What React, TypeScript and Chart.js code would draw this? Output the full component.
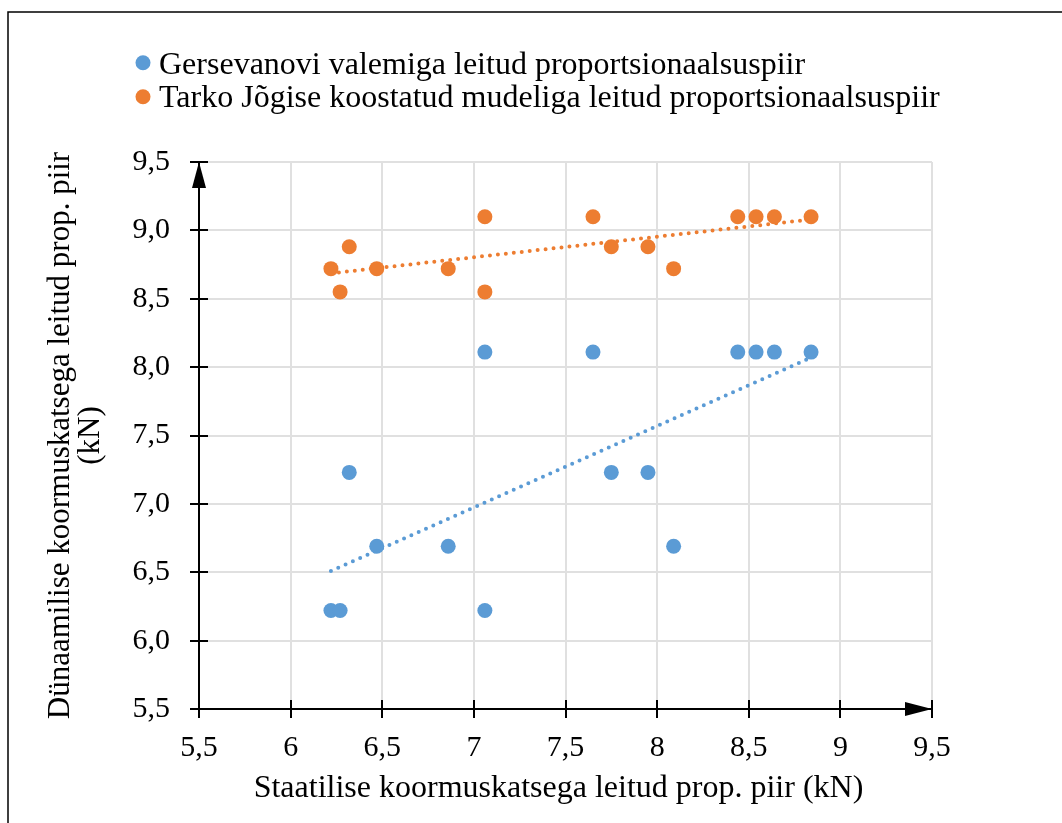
import React, { useEffect, useRef } from 'react';
import { Chart, registerables } from 'chart.js';

Chart.register(...registerables);

const seriesNames = [
  'Gersevanovi valemiga leitud proportsionaalsuspiir',
  'Tarko Jõgise koostatud mudeliga leitud proportsionaalsuspiir',
];
const seriesColors = ['#5B9BD5', '#ED7D31'];

// Staatilise koormuskatsega leitud prop. piir (kN)
const staticX = [6.22, 6.27, 6.32, 6.47, 6.86, 7.06, 7.06, 7.65, 7.75, 7.95, 8.09, 8.44, 8.54, 8.64, 8.84];
// Dünaamilise koormuskatsega leitud prop. piir (kN)
const gersevanovY = [6.22, 6.22, 7.23, 6.69, 6.69, 6.22, 8.11, 8.11, 7.23, 7.23, 6.69, 8.11, 8.11, 8.11, 8.11];
const tarkoY = [8.72, 8.55, 8.88, 8.72, 8.72, 9.1, 8.55, 9.1, 8.88, 8.88, 8.72, 9.1, 9.1, 9.1, 9.1];

// linear trendlines (end points)
const trendX = [6.22, 8.84];
const gersevanovTrend = [6.51, 8.07];
const tarkoTrend = [8.686, 9.08];

const xTickLabels = ['5,5', '6', '6,5', '7', '7,5', '8', '8,5', '9', '9,5'];
const yTickLabels = ['5,5', '6,0', '6,5', '7,0', '7,5', '8,0', '8,5', '9,0', '9,5'];

const xTitle = 'Staatilise koormuskatsega leitud prop. piir (kN)';
const yTitle = ['Dünaamilise koormuskatsega leitud prop. piir', '(kN)'];

const FONT = "'Liberation Serif', 'Times New Roman', serif";

const decorPlugin = {
  id: 'decor',
  afterDraw(chart: any) {
    const ctx: CanvasRenderingContext2D = chart.ctx;
    const { left, right, top, bottom } = chart.chartArea;
    const xs = chart.scales.x;
    const ys = chart.scales.y;
    ctx.save();
    // outer frame
    ctx.strokeStyle = '#000';
    ctx.lineWidth = 1.5;
    ctx.beginPath();
    ctx.moveTo(8, 823);
    ctx.lineTo(8, 12);
    ctx.lineTo(1062, 12);
    ctx.stroke();

    // cross tick marks
    ctx.lineWidth = 2;
    ctx.beginPath();
    ys.ticks.forEach((t: any) => {
      const py = Math.round(ys.getPixelForValue(t.value));
      ctx.moveTo(left - 9, py);
      ctx.lineTo(left + 9, py);
    });
    xs.ticks.forEach((t: any) => {
      const px = Math.round(xs.getPixelForValue(t.value));
      ctx.moveTo(px, bottom - 9);
      ctx.lineTo(px, bottom + 9);
    });
    ctx.stroke();

    // arrow heads
    ctx.fillStyle = '#000';
    ctx.beginPath();
    ctx.moveTo(left, top);
    ctx.lineTo(left - 7, top + 26);
    ctx.lineTo(left + 7, top + 26);
    ctx.closePath();
    ctx.fill();
    ctx.beginPath();
    ctx.moveTo(right, bottom);
    ctx.lineTo(right - 27, bottom - 7);
    ctx.lineTo(right - 27, bottom + 7);
    ctx.closePath();
    ctx.fill();

    // x axis title
    ctx.font = `32px ${FONT}`;
    ctx.fillStyle = '#000';
    ctx.textAlign = 'center';
    ctx.textBaseline = 'alphabetic';
    ctx.fillText(xTitle, (left + right) / 2 - 7, 797);

    // legend
    ctx.textAlign = 'left';
    const items = chart.data.datasets.filter((d: any) => d.inLegend);
    items.forEach((d: any, i: number) => {
      const cy = 62.7 + i * 34;
      ctx.fillStyle = d.backgroundColor;
      ctx.beginPath();
      ctx.arc(143, cy, 7.5, 0, Math.PI * 2);
      ctx.fill();
      ctx.fillStyle = '#000';
      ctx.fillText(d.label, 159, 73.5 + i * 33);
    });
    ctx.restore();
  },
};

export default function App() {
  const ref = useRef<HTMLCanvasElement>(null);
  useEffect(() => {
    document.body.style.margin = '0';
    document.body.style.overflow = 'hidden';
    const mk = (xs: number[], ys: number[]) => xs.map((x, i) => ({ x, y: ys[i] }));
    const chart = new Chart(ref.current as HTMLCanvasElement, {
      type: 'scatter',
      data: {
        datasets: [
          {
            label: seriesNames[0],
            data: mk(staticX, gersevanovY),
            backgroundColor: seriesColors[0],
            borderColor: seriesColors[0],
            pointRadius: 7.5,
            pointBorderWidth: 0,
            order: 1,
            inLegend: true,
          } as any,
          {
            label: seriesNames[1],
            data: mk(staticX, tarkoY),
            backgroundColor: seriesColors[1],
            borderColor: seriesColors[1],
            pointRadius: 7.5,
            pointBorderWidth: 0,
            order: 1,
            inLegend: true,
          } as any,
          {
            type: 'line',
            label: 'trend1',
            data: mk(trendX, gersevanovTrend),
            borderColor: seriesColors[0],
            borderWidth: 4,
            borderDash: [0, 8],
            borderCapStyle: 'round',
            pointRadius: 0,
            showLine: true,
            fill: false,
            order: 2,
          } as any,
          {
            type: 'line',
            label: 'trend2',
            data: mk(trendX, tarkoTrend),
            borderColor: seriesColors[1],
            borderWidth: 4,
            borderDash: [0, 8],
            borderCapStyle: 'round',
            pointRadius: 0,
            showLine: true,
            fill: false,
            order: 2,
          } as any,
        ],
      },
      options: {
        responsive: false,
        animation: false,
        events: [],
        layout: { padding: { left: 0, top: 162, right: 130, bottom: 0 } },
        plugins: { legend: { display: false }, tooltip: { enabled: false } },
        scales: {
          x: {
            type: 'linear',
            min: 5.5,
            max: 9.5,
            ticks: {
              stepSize: 0.5,
              padding: 21,
              color: '#000',
              font: { family: FONT, size: 30 },
              maxRotation: 0,
              autoSkip: false,
              callback: (_v: any, i: number) => xTickLabels[i],
            },
            grid: { color: '#e0e0e0', lineWidth: 2, drawTicks: false },
            border: { color: '#000', width: 2 },
            title: { display: false },
            afterFit: (s: any) => {
              s.height = 114;
            },
          },
          y: {
            type: 'linear',
            min: 5.5,
            max: 9.5,
            ticks: {
              stepSize: 0.5,
              padding: 29,
              color: '#000',
              font: { family: FONT, size: 30 },
              autoSkip: false,
              callback: (_v: any, i: number) => yTickLabels[i],
            },
            grid: { color: '#e0e0e0', lineWidth: 2, drawTicks: false },
            border: { color: '#000', width: 2 },
            title: {
              display: true,
              text: yTitle,
              color: '#000',
              font: { family: FONT, size: 31, lineHeight: 0.97 },
              padding: { top: 46, bottom: 0 },
            },
            afterFit: (s: any) => {
              s.width = 199;
            },
          },
        },
      } as any,
      plugins: [decorPlugin],
    });
    return () => chart.destroy();
  }, []);
  return (
    <div style={{ width: 1062, height: 823, background: '#fff' }}>
      <canvas ref={ref} width={1062} height={823} style={{ display: 'block' }} />
    </div>
  );
}
